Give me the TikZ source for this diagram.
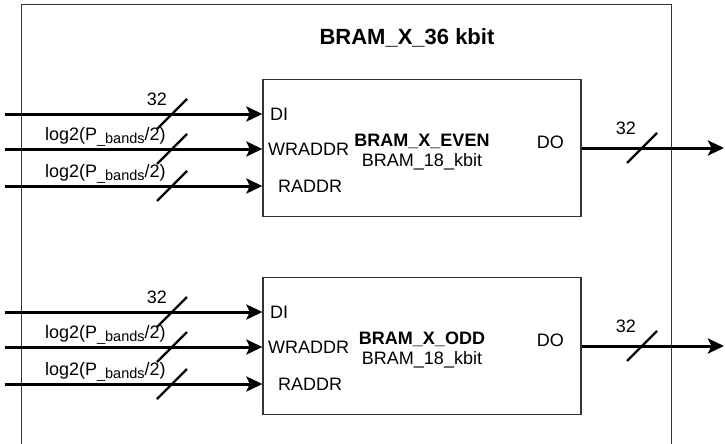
\documentclass[tikz,border=0pt]{standalone}
\usepackage{fontspec}
\setmainfont{Liberation Sans}
\usetikzlibrary{arrows.meta,positioning,calc}

\newcommand{\pbands}{log2(P\raisebox{-3pt}{\fontsize{14.5}{16}\selectfont\_bands}/2)}

\begin{document}
\begin{tikzpicture}[x=1pt, y=-1pt,
  every node/.style={font=\fontsize{18}{21}\selectfont, inner sep=0pt},
  bram/.style={draw=black!80, line width=1.3pt, minimum width=318pt, minimum height=137pt},
  bus/.style={line width=3pt, -{Stealth[length=16pt,width=15pt,inset=3.5pt]}},
  slash/.style={line width=2.3pt}]
\useasboundingbox (0,0) rectangle (725,444);

% outer 36 kbit block (bottom edge runs off the page)
\node[draw=black!80, line width=1pt, minimum width=650pt, minimum height=460pt] (bram36) at (346,235) {};
\node[font=\fontsize{22}{26}\selectfont\bfseries, anchor=base] (bram36title) at (407,45) {BRAM\_X\_36 kbit};

% the two 18 kbit halves
\foreach \name/\cy/\title in {even/148/EVEN, odd/346/ODD}{
  \node[bram] (\name) at (422,\cy) {};
  \node[font=\fontsize{18}{21}\selectfont\bfseries, anchor=base] (\name title) at (422,\cy-2) {BRAM\_X\_\title};
  \node[anchor=base] (\name type) at (422,\cy+18) {BRAM\_18\_kbit};
  % ports
  \node[anchor=west] (\name di) at (270,\cy-34) {DI};
  \node[anchor=west] (\name wr) at (268,\cy+1) {WRADDR};
  \node[anchor=west] (\name rd) at (278,\cy+38) {RADDR};
  \node[anchor=base east] (\name do) at (564,\cy) {DO};
  % input buses
  \foreach \port/\lab/\lp in {di/32/0.59, wr/\pbands/0.39, rd/\pbands/0.39}{
    \coordinate (\name src\port) at (5,0 |- \name\port);
    \draw[bus] (\name src\port) -- (\name.west |- \name\port)
      node[pos=\lp, anchor=base, yshift=9pt] (\name lab\port) {\lab};
    \draw[slash] (172,0 |- \name src\port) ++(-15,15) -- ++(30,-30);
  }
  % output bus
  \coordinate (\name out) at (724,\cy);
  \draw[bus] (\name.east) -- (\name out)
    node[pos=0.31, anchor=base, yshift=13.5pt] (\name labdo) {32};
  \draw[slash] (642,0 |- \name out) ++(-15,15) -- ++(30,-30);
}
\end{tikzpicture}
\end{document}
